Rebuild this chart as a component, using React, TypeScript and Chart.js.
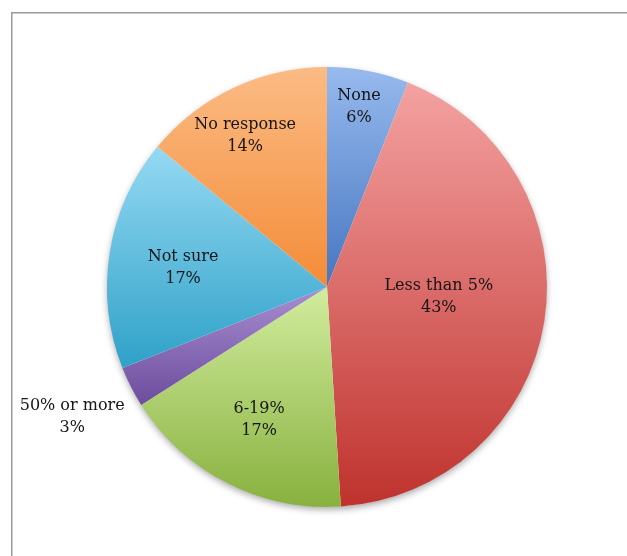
import React, { useEffect, useRef } from "react";
import { Chart, registerables } from "chart.js";

Chart.register(...registerables);

const categories = ["None", "Less than 5%", "6-19%", "50% or more", "Not sure", "No response"];
const values = [6, 43, 17, 3, 17, 14];
const percentLabels = ["6%", "43%", "17%", "3%", "17%", "14%"];
const topColors = ["#97baee", "#f4a2a2", "#d2ec9e", "#a88ed2", "#95d9f3", "#fbbb84"];
const bottomColors = ["#4676c0", "#bf322d", "#88b13f", "#6c4c9c", "#2fa1c8", "#f48c38"];
const labelRadius = [0.83, 0.51, 0.68, 1.3, 0.66, 0.78];
const labelAngleShift = [-0.7, -4, 0, 0, -1.5, -3.3];

const FONT = '"DejaVu Serif", serif';

function sliceGradient(ctx: any) {
  const i = ctx.dataIndex;
  const chart = ctx.chart;
  const area = chart.chartArea;
  if (!area || i === undefined) return bottomColors[i ?? 0];
  const cx = (area.left + area.right) / 2;
  const cy = (area.top + area.bottom) / 2;
  const r = Math.min(area.right - area.left, area.bottom - area.top) / 2;
  const total = values.reduce((a, b) => a + b, 0);
  let cum = 0;
  for (let k = 0; k < i; k++) cum += values[k];
  const a0 = -Math.PI / 2 + (cum / total) * Math.PI * 2;
  const a1 = a0 + (values[i] / total) * Math.PI * 2;
  const ys = [cy, cy + r * Math.sin(a0), cy + r * Math.sin(a1)];
  const within = (a: number) => {
    for (let t = a - 4 * Math.PI; t <= a1 + 4 * Math.PI; t += 2 * Math.PI) {
      if (t >= a0 && t <= a1) return true;
    }
    return false;
  };
  if (within(Math.PI / 2)) ys.push(cy + r);
  if (within(-Math.PI / 2)) ys.push(cy - r);
  const ymin = Math.min(...ys);
  const ymax = Math.max(...ys);
  const g = chart.ctx.createLinearGradient(0, ymin, 0, ymax);
  g.addColorStop(0, topColors[i]);
  g.addColorStop(1, bottomColors[i]);
  return g;
}

const framePlugin = {
  id: "frame",
  beforeDraw(chart: any) {
    const c = chart.ctx;
    c.save();
    c.fillStyle = "#ffffff";
    c.fillRect(0, 0, chart.width, chart.height);
    c.strokeStyle = "#9a9a9a";
    c.lineWidth = 1.5;
    c.beginPath();
    c.moveTo(11.75, chart.height + 2);
    c.lineTo(11.75, 12.75);
    c.lineTo(chart.width + 2, 12.75);
    c.stroke();
    c.restore();
  },
  beforeDatasetsDraw(chart: any) {
    const meta = chart.getDatasetMeta(0);
    const el = meta.data[0];
    if (!el) return;
    const c = chart.ctx;
    c.save();
    c.shadowColor = "rgba(0,0,0,0.35)";
    c.shadowBlur = 7;
    c.shadowOffsetY = 3;
    c.fillStyle = "#ffffff";
    c.beginPath();
    c.arc(el.x, el.y, el.outerRadius - 0.5, 0, Math.PI * 2);
    c.fill();
    c.restore();
  },
  afterDatasetsDraw(chart: any) {
    const meta = chart.getDatasetMeta(0);
    const c = chart.ctx;
    c.save();
    c.font = `16px ${FONT}`;
    c.fillStyle = "#151515";
    c.textAlign = "center";
    c.textBaseline = "middle";
    meta.data.forEach((el: any, i: number) => {
      const mid = (el.startAngle + el.endAngle) / 2 + (labelAngleShift[i] * Math.PI) / 180;
      const rr = el.outerRadius * labelRadius[i];
      const x = el.x + Math.cos(mid) * rr;
      const y = el.y + Math.sin(mid) * rr;
      c.fillText(categories[i], x, y - 11);
      c.fillText(percentLabels[i], x, y + 11);
    });
    c.restore();
  },
};

export default function App() {
  const ref = useRef<HTMLCanvasElement>(null);
  useEffect(() => {
    if (!ref.current) return;
    const chart = new Chart(ref.current, {
      type: "pie",
      data: {
        labels: categories,
        datasets: [
          {
            data: values,
            backgroundColor: sliceGradient as any,
            borderWidth: 0,
          },
        ],
      },
      options: {
        animation: false,
        responsive: false,
        layout: { padding: { top: 67, bottom: 49, left: 107, right: 80 } },
        plugins: {
          legend: { display: false },
          tooltip: { enabled: false },
        },
      },
      plugins: [framePlugin],
    });
    return () => chart.destroy();
  }, []);
  return (
    <div style={{ position: "fixed", left: 0, top: 0, width: 627, height: 556 }}>
      <canvas ref={ref} width={627} height={556} style={{ width: 627, height: 556 }} />
    </div>
  );
}
